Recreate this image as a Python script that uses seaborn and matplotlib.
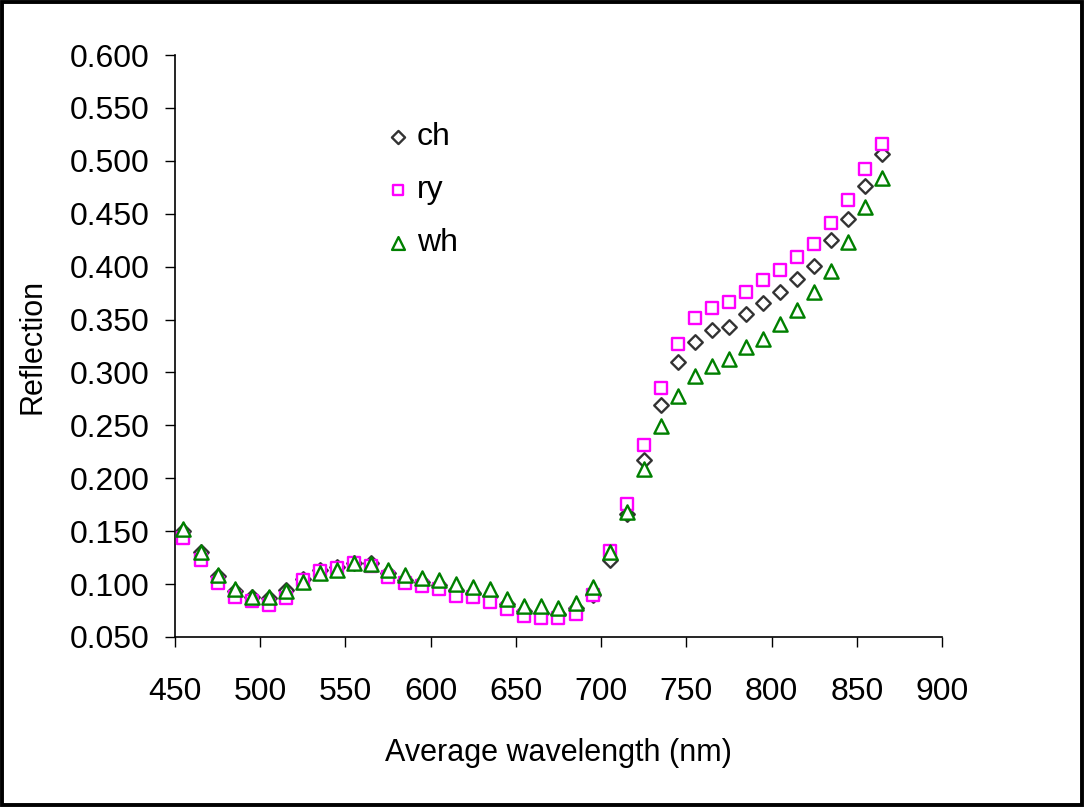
import numpy as np
import pandas as pd
import matplotlib
matplotlib.use("Agg")
import matplotlib.pyplot as plt
import seaborn as sns
from matplotlib.patches import Rectangle

# ---------------- data ----------------
wavelength = [455, 465, 475, 485, 495, 505, 515, 525, 535, 545, 555, 565, 575, 585,
              595, 605, 615, 625, 635, 645, 655, 665, 675, 685, 695, 705, 715, 725,
              735, 745, 755, 765, 775, 785, 795, 805, 815, 825, 835, 845, 855, 865]

ch = [0.150, 0.130, 0.108, 0.093, 0.088, 0.087, 0.094, 0.105, 0.113, 0.116, 0.120, 0.120,
      0.110, 0.104, 0.102, 0.099, 0.094, 0.092, 0.089, 0.081, 0.075, 0.073, 0.072, 0.077,
      0.090, 0.123, 0.166, 0.217, 0.269, 0.310, 0.329, 0.340, 0.343, 0.355, 0.366, 0.376,
      0.388, 0.401, 0.425, 0.445, 0.476, 0.506]

ry = [0.144, 0.123, 0.101, 0.088, 0.084, 0.080, 0.087, 0.104, 0.112, 0.115, 0.120, 0.117,
      0.107, 0.101, 0.098, 0.095, 0.089, 0.088, 0.083, 0.076, 0.070, 0.068, 0.068, 0.072,
      0.090, 0.131, 0.176, 0.231, 0.285, 0.327, 0.351, 0.361, 0.367, 0.376, 0.387, 0.397,
      0.409, 0.421, 0.441, 0.463, 0.492, 0.516]

wh = [0.152, 0.130, 0.109, 0.095, 0.088, 0.088, 0.093, 0.102, 0.110, 0.113, 0.120, 0.119,
      0.113, 0.109, 0.106, 0.104, 0.100, 0.097, 0.095, 0.086, 0.079, 0.079, 0.077, 0.082,
      0.097, 0.130, 0.168, 0.209, 0.249, 0.278, 0.297, 0.306, 0.313, 0.324, 0.332, 0.346,
      0.359, 0.376, 0.396, 0.423, 0.456, 0.484]

series_names = ["ch", "ry", "wh"]
x_ticks = [450, 500, 550, 600, 650, 700, 750, 800, 850, 900]
y_ticks = [0.05, 0.10, 0.15, 0.20, 0.25, 0.30, 0.35, 0.40, 0.45, 0.50, 0.55, 0.60]
x_label = "Average wavelength (nm)"
y_label = "Reflection"

# ---------------- style ----------------
sns.set_theme(style="white")
plt.rcParams["font.family"] = ["Liberation Sans", "DejaVu Sans"]

df = pd.DataFrame({"wavelength": wavelength * 3,
                   "value": ch + ry + wh,
                   "series": sum([[n] * len(wavelength) for n in series_names], [])})

colors = {"ch": "#333333", "ry": "#ff00ff", "wh": "#008000"}
markers = {"ch": "D", "ry": "s", "wh": "^"}
sizes = {"ch": 55, "ry": 72, "wh": 105}

fig = plt.figure(figsize=(10.84, 8.07), dpi=100)
ax = fig.add_axes([0.1614, 0.2107, 0.7076, 0.7211])

for name in series_names:
    sub = df[df["series"] == name]
    sns.scatterplot(data=sub, x="wavelength", y="value", ax=ax,
                    marker=markers[name], s=sizes[name], color="white",
                    edgecolor=colors[name], linewidth=1.7, label=name, zorder=3)

ax.set_xlim(450, 900)
ax.set_ylim(0.05, 0.60)
ax.set_xticks(x_ticks)
ax.set_yticks(y_ticks)
ax.set_xticklabels([str(v) for v in x_ticks])
ax.set_yticklabels([f"{v:.3f}" for v in y_ticks])

for s in ["top", "right"]:
    ax.spines[s].set_visible(False)
for s in ["left", "bottom"]:
    ax.spines[s].set_color("black")
    ax.spines[s].set_linewidth(1.2)

ax.tick_params(axis="both", which="major", direction="out", length=7, width=1.0,
               color="black", left=True, bottom=True)
ax.tick_params(axis="y", pad=11)
ax.tick_params(axis="x", pad=22)
for lab in ax.get_xticklabels() + ax.get_yticklabels():
    lab.set_fontsize(23)
    lab.set_color("black")

ax.set_xlabel(x_label, fontsize=22, color="black", labelpad=22)
ax.set_ylabel(y_label, fontsize=22, color="black", labelpad=16)

leg = ax.legend(loc="upper left", bbox_to_anchor=(0.257, 0.912), frameon=False,
                fontsize=23, handlelength=0.6, handletextpad=0.3,
                labelspacing=0.72, markerscale=0.9, borderpad=0)
for t in leg.get_texts():
    t.set_color("black")

fig.patches.append(Rectangle((0.0015, 0.002), 0.997, 0.995, transform=fig.transFigure,
                             fill=False, edgecolor="black", linewidth=2.8))

fig.savefig("out.png", dpi=100, facecolor="white")
